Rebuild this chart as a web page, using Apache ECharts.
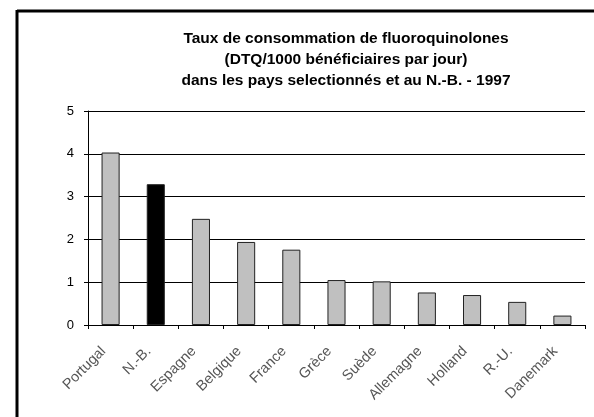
<!DOCTYPE html>
<html>
<head>
<meta charset="utf-8">
<script src="https://cdn.jsdelivr.net/npm/echarts@6/dist/echarts.min.js"></script>
<style>
  html, body { margin: 0; padding: 0; background: #fff; }
  #chart { width: 594px; height: 417px; }
</style>
</head>
<body>
<div id="chart"></div>
<script>
// pays et taux (DTQ/1000 bénéficiaires par jour)
var pays = ["Portugal", "N.-B.", "Espagne", "Belgique", "France", "Grèce", "Suède", "Allemagne", "Holland", "R.-U.", "Danemark"];
var taux = [4.03, 3.29, 2.48, 1.94, 1.76, 1.05, 1.02, 0.76, 0.70, 0.54, 0.22];
var paysMisEnValeur = "N.-B.";
var yTicks = [0, 1, 2, 3, 4, 5];

var chart = echarts.init(document.getElementById("chart"), null, { renderer: "canvas" });

var option = {
    backgroundColor: "#fff",
    animation: false,
    title: {
        text: "Taux de consommation de fluoroquinolones\n(DTQ/1000 bénéficiaires par jour)\ndans les pays selectionnés et au N.-B. - 1997",
        left: 341,
        top: 23,
        textAlign: "center",
        textStyle: {
            fontFamily: "Liberation Sans",
            fontWeight: "bold",
            fontSize: 15.5,
            lineHeight: 21,
            color: "#000"
        }
    },
    graphic: [
        { type: "line", shape: { x1: 17, y1: 11, x2: 594, y2: 11 }, style: { stroke: "#000", lineWidth: 3 } },
        { type: "line", shape: { x1: 17, y1: 10, x2: 17, y2: 417 }, style: { stroke: "#000", lineWidth: 3 } }
    ],
    grid: { left: 88, right: 9, top: 111, bottom: 92 },
    xAxis: {
        type: "category",
        data: pays,
        boundaryGap: true,
        axisLine: { lineStyle: { color: "#000", width: 1 } },
        axisTick: { show: true, length: 4, lineStyle: { color: "#000" } },
        axisLabel: {
            rotate: 45,
            interval: 0,
            margin: 17,
            padding: [0, 10, 0, 0],
            fontFamily: "Liberation Sans",
            fontSize: 14.5,
            color: "#555"
        }
    },
    yAxis: {
        type: "value",
        min: yTicks[0],
        max: yTicks[yTicks.length - 1],
        interval: 1,
        axisLine: { show: true, lineStyle: { color: "#000", width: 1 } },
        axisTick: { show: true, length: 4, inside: false, lineStyle: { color: "#000" } },
        splitLine: { show: true, lineStyle: { color: "#000", width: 1 } },
        axisLabel: {
            margin: 14,
            fontFamily: "Liberation Sans",
            fontSize: 13,
            color: "#000"
        }
    },
    series: [{
        type: "bar",
        barWidth: "40%",
        data: taux.map(function (v, i) {
            return {
                value: v,
                itemStyle: {
                    color: pays[i] === paysMisEnValeur ? "#000" : "#c0c0c0",
                    borderColor: "#222",
                    borderWidth: 1
                }
            };
        })
    }]
};

chart.setOption(option);
</script>
</body>
</html>
